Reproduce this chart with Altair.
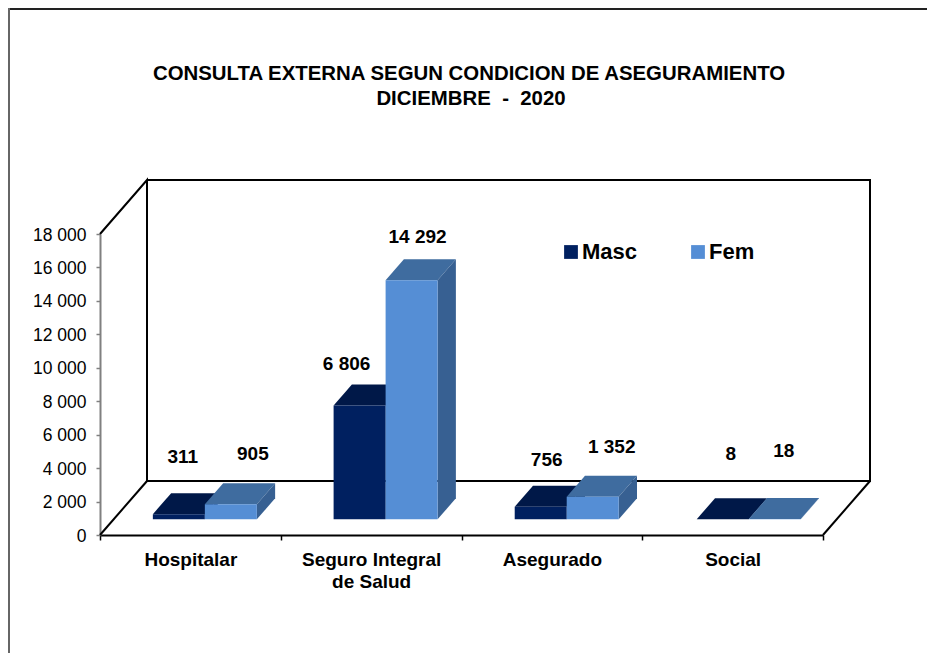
import altair as alt
import pandas as pd

categories = ["Hospitalar", "Seguro Integral de Salud", "Asegurado", "Social"]
masc = [311, 6806, 756, 8]
fem = [905, 14292, 1352, 18]
series_names = ["Masc", "Fem"]
y_ticks = [0, 2000, 4000, 6000, 8000, 10000, 12000, 14000, 16000, 18000]
title_lines = ["CONSULTA EXTERNA SEGUN CONDICION DE ASEGURAMIENTO", "DICIEMBRE\u00a0\u00a0-\u00a0\u00a02020"]

# --- layout / style (kept apart from the data) ---
W, H = 723, 301
PAD_L, PAD_T = 92, 226
TOTAL_W, TOTAL_H = 919, 645
YMAX = 18000
SLOT = W / 4
PX_Y = YMAX / H
DEPTH_X = 47 / SLOT          # full floor depth, in slots
DEPTH_Y = 54 * PX_Y          # full floor depth, in value units
BAR_START = [0.217, 1.217, 2.219, 3.226]
BAR_W = 52 / SLOT
BAR_D0, BAR_D1 = 0.29, 0.679
FONT = "Liberation Sans"
COL = {"Masc": ("#002060", "#001848", "#001848"), "Fem": ("#558ed5", "#3f6c9f", "#376092")}
# text placement of each value label relative to the top-centre of its bar's front: (dx, lift) px
LABEL_OFF = {"Masc": [(4, 57), (-13, 42), (6, 47), (8, 65)],
             "Fem": [(22, 50), (6, 43), (19, 50), (9, 68)]}

front_rows, face_rows, label_rows = [], [], []
for s_i, (name, vals) in enumerate(zip(series_names, [masc, fem])):
    for c_i, (cat, v) in enumerate(zip(categories, vals)):
        x0 = BAR_START[c_i] + s_i * BAR_W + BAR_D0 * DEPTH_X
        x1 = x0 + BAR_W
        dx = (BAR_D1 - BAR_D0) * DEPTH_X
        base = BAR_D0 * DEPTH_Y
        dv = (BAR_D1 - BAR_D0) * DEPTH_Y
        top = base + v
        front_rows.append(dict(serie=name, cat=cat, x=x0, x2=x1, y=top, y2=base))
        t = f"{c_i}-{name}-top"
        f = COL[name][1]
        for px, a, b in [(x0, top, top), (x0 + dx, top, top + dv), (x1, top, top + dv), (x1 + dx, top + dv, top + dv)]:
            face_rows.append(dict(serie=name, face=t, fill=f, x=px, y=a, y2=b))
        t = f"{c_i}-{name}-side"
        f = COL[name][2]
        for px, a, b in [(x1, top, base), (x1 + dx, top + dv, base + dv)]:
            face_rows.append(dict(serie=name, face=t, fill=f, x=px, y=a, y2=b))
        ox, lift = LABEL_OFF[name][c_i]
        label_rows.append(dict(text=f"{v:,}".replace(",", " "),
                               x=(x0 + x1) / 2 + ox / SLOT, y=top + lift * PX_Y))

front = pd.DataFrame(front_rows)
faces = pd.DataFrame(face_rows)
labels = pd.DataFrame(label_rows)

# walls and floor edges
corners = [
    ("a", [(0, YMAX, 0), (0, YMAX, 1), (0, 0, 1), (4, 0, 1), (4, YMAX, 1), (0, YMAX, 1)]),
    ("b", [(0, 0, 0), (0, 0, 1)]),
    ("c", [(4, 0, 0), (4, 0, 1)]),
]
wall_rows = []
for seg, pts in corners:
    for i, (sx, v, d) in enumerate(pts):
        wall_rows.append(dict(seg=seg, i=i, x=sx + d * DEPTH_X, y=v + d * DEPTH_Y))
walls = pd.DataFrame(wall_rows)

y_axis = alt.Axis(values=y_ticks, grid=False, labelExpr="replace(datum.label, ',', ' ')",
                  labelFont=FONT, labelFontSize=17.5, labelColor="#000000", labelPadding=10,
                  labelOffset=1, domainColor="#808080", domainWidth=2, tickColor="#808080",
                  tickWidth=1.5, tickSize=4)
y_scale = alt.Scale(domain=[0, YMAX], nice=False)
x_q = alt.X("x:Q", scale=alt.Scale(domain=[0, 4], nice=False, zero=False), axis=None)
y_q = alt.Y("y:Q", scale=y_scale, axis=y_axis, stack=None, title=None)

x_axis_layer = alt.Chart(pd.DataFrame({"cat": categories})).mark_rule(opacity=0).encode(
    x=alt.X("cat:N", sort=categories, title=None,
            scale=alt.Scale(type="band", paddingInner=0, paddingOuter=0),
            axis=alt.Axis(tickBand="extent", labelAngle=0, labelFont=FONT, labelFontSize=19,
                          labelFontWeight="bold", labelColor="#000000", labelPadding=10,
                          labelLineHeight=22, labelLimit=0,
                          labelExpr="datum.label == 'Seguro Integral de Salud' ? ['Seguro Integral', 'de Salud'] : datum.label",
                          domainColor="#000000", domainWidth=2, tickColor="#000000", tickWidth=1.5,
                          tickSize=5)),
)

wall_layer = alt.Chart(walls).mark_line(color="#000000", strokeWidth=2).encode(
    x=x_q, y=y_q, detail="seg:N", order="i:Q")

color = alt.Color("serie:N", scale=alt.Scale(domain=series_names, range=[COL[s][0] for s in series_names]),
                  title=None,
                  legend=alt.Legend(orient="none", legendX=460, legendY=7, direction="horizontal",
                                    columns=2, columnPadding=49, symbolType="square", symbolSize=190,
                                    symbolStrokeWidth=0, labelFont=FONT, labelFontSize=22,
                                    labelFontWeight="bold", labelColor="#000000", labelOffset=0,
                                    padding=0))


def bar_layers(name):
    area = alt.Chart(faces[faces.serie == name]).mark_area(opacity=1).encode(
        x=x_q, y=y_q, y2="y2:Q", detail="face:N",
        fill=alt.Fill("fill:N", scale=None),
    )
    rect = alt.Chart(front[front.serie == name]).mark_rect(opacity=1).encode(
        x=alt.X("x:Q", scale=alt.Scale(domain=[0, 4], nice=False, zero=False), axis=None),
        x2="x2:Q",
        y=alt.Y("y:Q", scale=y_scale, axis=y_axis, title=None),
        y2="y2:Q",
        color=color,
    )
    return [area, rect]


label_layer = alt.Chart(labels).mark_text(font=FONT, fontSize=19, fontWeight="bold",
                                          color="#000000", baseline="middle", align="center").encode(
    x=x_q, y=y_q, text="text:N")

frame_top = alt.Chart(pd.DataFrame({"a": [0]})).mark_rule(color="#222222", strokeWidth=2).encode(
    x=alt.value(-PAD_L), x2=alt.value(TOTAL_W - PAD_L), y=alt.value(-PAD_T + 1))
frame_left = alt.Chart(pd.DataFrame({"a": [0]})).mark_rule(color="#666666", strokeWidth=2).encode(
    y=alt.value(-PAD_T), y2=alt.value(TOTAL_H - PAD_T), x=alt.value(-PAD_L + 1))

title_1 = alt.Chart(pd.DataFrame({"t": [title_lines[0]]})).mark_text(
    font=FONT, fontSize=20.4, fontWeight="bold", color="#000000", align="center", baseline="middle").encode(
    text="t:N", x=alt.value(369), y=alt.value(-160))
title_2 = alt.Chart(pd.DataFrame({"t": [title_lines[1]]})).mark_text(
    font=FONT, fontSize=20.4, fontWeight="bold", color="#000000", align="center", baseline="middle").encode(
    text="t:N", x=alt.value(371), y=alt.value(-135))

chart = alt.layer(
    frame_top, frame_left, title_1, title_2, wall_layer, x_axis_layer,
    *bar_layers("Masc"), *bar_layers("Fem"), label_layer,
).resolve_scale(x="independent").properties(
    width=W, height=H,
    padding={"left": PAD_L, "top": PAD_T, "right": TOTAL_W - PAD_L - W, "bottom": TOTAL_H - PAD_T - H},
    autosize=alt.AutoSizeParams(type="none"),
    background="#ffffff",
).configure_view(stroke=None)

chart.save("out.html", embed_options={"renderer": "svg", "actions": False})
